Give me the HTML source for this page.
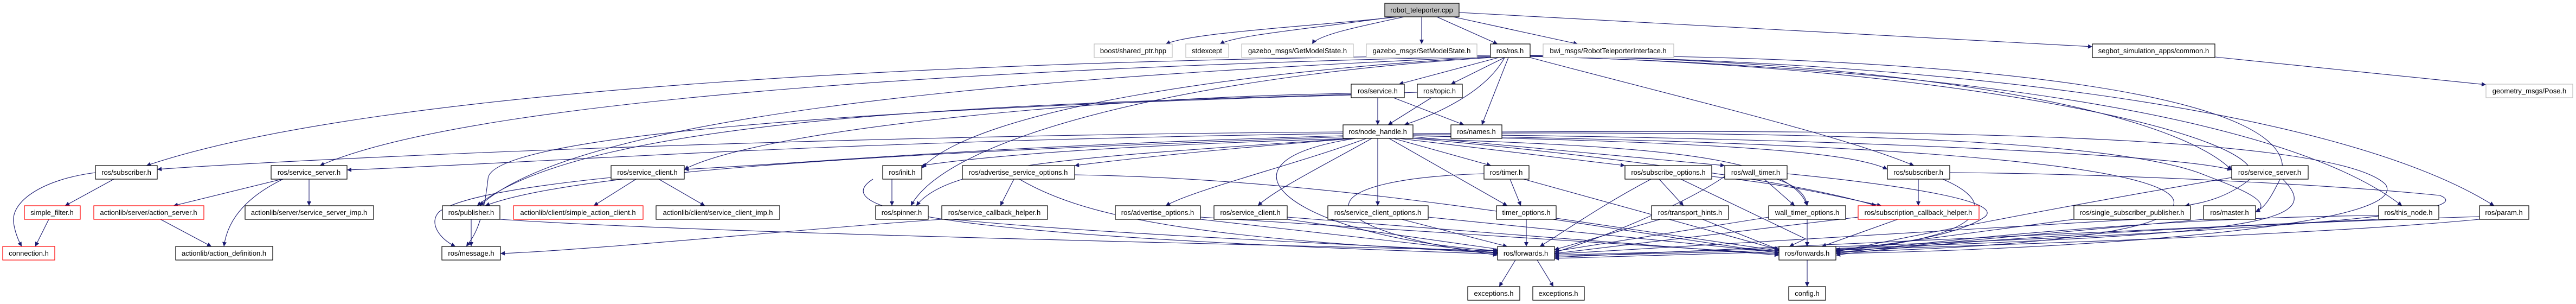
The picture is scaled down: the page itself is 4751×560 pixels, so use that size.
<!DOCTYPE html>
<html><head><meta charset="utf-8"><style>
html,body{margin:0;padding:0;background:#fff;}
svg{display:block;}
.e path{fill:none;stroke:#191970;stroke-width:1.1;}
.n rect{fill:#fff;stroke:#000;stroke-width:1.2;}
.n rect.g{stroke:#bfbfbf;}
.n rect.r{stroke:#ff0000;}
.n rect.f{fill:#bfbfbf;}
.n text{font-family:"Liberation Sans",sans-serif;font-size:13px;text-anchor:middle;fill:#000;}
</style></head><body>
<svg width="4751" height="560" viewBox="0 0 4751 560" xmlns="http://www.w3.org/2000/svg">
<defs><marker id="a" viewBox="0 0 10 10" refX="10" refY="5" markerWidth="10" markerHeight="8" markerUnits="userSpaceOnUse" orient="auto"><path d="M0,0 L10,5 L0,10 z" fill="#191970"/></marker></defs>
<g class="e" marker-end="url(#a)">
<path d="M2580 31 C2400 50 2200 60 2150 81"/>
<path d="M2570 31 C2400 55 2280 65 2250 81"/>
<path d="M2590 31 C2500 50 2430 65 2420 81"/>
<path d="M2622 31 L2622 81"/>
<path d="M2650 31 L2762 81"/>
<path d="M2680 31 L2910 81"/>
<path d="M2691 23 L3859 86"/>
<path d="M4085 105 L4585 156"/>
<path d="M2764 106 L2580 155"/>
<path d="M2775 106 L2676 155"/>
<path d="M2775 106 C2740 170 2650 210 2590 230"/>
<path d="M2782 106 L2733 230"/>
<path d="M2748 102 C1800 110 700 160 270 305"/>
<path d="M2748 104 C2000 120 900 170 590 305"/>
<path d="M2748 104 C2200 130 1100 180 885 379"/>
<path d="M2750 105 C2300 130 1800 200 1700 310"/>
<path d="M2750 106 C2200 140 1750 250 1680 379"/>
<path d="M2822 104 C3500 120 4200 200 4430 379"/>
<path d="M2822 103 C3500 110 4300 190 4600 379"/>
<path d="M2822 102 C3600 100 4300 170 4200 340 C4180 380 4170 385 4160 390"/>
<path d="M2822 103 C3500 110 4000 200 4116 313"/>
<path d="M2822 106 C3100 180 3400 250 3530 305"/>
<path d="M2822 104 C3600 120 4200 250 4150 330 C4100 370 4050 375 4030 379"/>
<path d="M2541 180 L2541 230"/>
<path d="M2570 180 L2700 230"/>
<path d="M2492 172 C2000 180 1400 240 1262 312"/>
<path d="M2492 175 C1600 200 900 250 900 330 C890 420 870 440 860 454"/>
<path d="M2640 180 L2560 230"/>
<path d="M2614 170 C2000 190 1100 200 880 379"/>
<path d="M2477 243 C1500 250 600 290 290 312"/>
<path d="M2477 246 C1500 260 1000 300 640 313"/>
<path d="M2477 250 C1800 270 1500 300 1262 312"/>
<path d="M2477 252 C2000 270 1100 300 895 379"/>
<path d="M2490 255 C2000 270 1800 290 1700 305"/>
<path d="M2490 255 C2000 290 1750 300 1690 379"/>
<path d="M2500 255 C2300 270 2100 290 1982 305"/>
<path d="M2520 255 C2400 300 2200 350 2150 379"/>
<path d="M2530 255 C2450 300 2350 350 2320 379"/>
<path d="M2541 255 L2541 379"/>
<path d="M2570 255 L2750 305"/>
<path d="M2562 255 L2780 379"/>
<path d="M2580 255 L2997 305"/>
<path d="M2606 252 L3181 305"/>
<path d="M2606 255 C3000 270 3300 280 3333 379"/>
<path d="M2606 250 C3000 260 3400 270 3481 312"/>
<path d="M2606 248 C3200 250 4000 280 4116 313"/>
<path d="M2606 255 C2900 280 3300 330 3460 379"/>
<path d="M2500 255 C2200 300 2400 440 2765 462"/>
<path d="M2606 250 C3400 260 4100 300 4000 390 C3950 440 3600 460 3386 464"/>
<path d="M2606 246 C3400 240 3900 260 4060 320 C4110 340 4200 370 4160 391"/>
<path d="M2770 243 C3400 240 4300 240 4400 340 C4450 420 3800 460 3386 467"/>
<path d="M210 330 L120 379"/>
<path d="M176 318 C80 330 20 370 25 410 C28 430 35 445 40 454"/>
<path d="M90 404 L65 454"/>
<path d="M296 404 L390 454"/>
<path d="M520 330 L320 379"/>
<path d="M570 330 L570 379"/>
<path d="M522 330 C460 360 420 400 413 454"/>
<path d="M1173 330 L1095 379"/>
<path d="M1215 330 L1300 379"/>
<path d="M1127 327 C1000 340 850 360 810 390 C790 410 810 440 840 454"/>
<path d="M869 404 L869 454"/>
<path d="M922 404 C1300 430 2300 450 2762 462"/>
<path d="M1737 404 C1500 420 1100 460 923 467"/>
<path d="M1737 402 C2000 430 2500 450 2762 465"/>
<path d="M1645 330 L1645 379"/>
<path d="M1610 330 C1500 400 1900 440 2762 468"/>
<path d="M1870 330 L1845 379"/>
<path d="M1880 330 C2000 400 2200 440 2765 466"/>
<path d="M1982 322 C2500 330 3000 430 3281 466"/>
<path d="M2214 404 L2762 466"/>
<path d="M2214 400 L3281 468"/>
<path d="M2374 404 L2770 460"/>
<path d="M2374 400 L3281 470"/>
<path d="M2585 404 L2780 454"/>
<path d="M2634 400 L3281 465"/>
<path d="M2785 330 L2805 379"/>
<path d="M2737 320 C2400 330 2400 420 2762 470"/>
<path d="M2810 330 L3281 460"/>
<path d="M2815 404 L2815 454"/>
<path d="M2870 402 L3281 462"/>
<path d="M3060 330 L3105 379"/>
<path d="M3045 330 C2950 380 2880 430 2840 454"/>
<path d="M3100 330 L3330 440 3300 454"/>
<path d="M3157 325 C3300 340 3380 360 3470 379"/>
<path d="M3062 404 L2867 460"/>
<path d="M3140 404 L3281 460"/>
<path d="M3254 330 L3310 379"/>
<path d="M3181 325 C3100 380 2950 440 2867 465"/>
<path d="M3200 310 C3300 330 3330 350 3333 379"/>
<path d="M3296 320 C3500 340 3700 370 3660 400 C3600 440 3450 455 3386 460"/>
<path d="M3333 404 L3333 454"/>
<path d="M3262 400 L2867 463"/>
<path d="M3538 330 L3538 379"/>
<path d="M3583 330 C3700 380 3650 440 3386 462"/>
<path d="M3596 318 C3900 320 4300 340 4500 360 C4600 400 4000 440 2867 470"/>
<path d="M3500 404 L3360 454"/>
<path d="M3427 400 L2867 467"/>
<path d="M4116 327 C3800 380 3500 440 3386 464"/>
<path d="M4210 330 C4300 420 4150 440 2867 472"/>
<path d="M3825 404 L3386 462"/>
<path d="M4040 398 L2867 468"/>
<path d="M4064 404 L3386 465"/>
<path d="M4387 397 C4000 400 3600 440 3386 467"/>
<path d="M4387 404 L2867 474"/>
<path d="M4573 399 C4200 410 3600 440 3386 470"/>
<path d="M4573 404 C4200 440 3400 460 2867 476"/>
<path d="M2795 479 L2765 528"/>
<path d="M2835 479 L2865 528"/>
<path d="M3333 479 L3333 528"/>
</g>
<g class="n">
<rect class="f" x="2554" y="6" width="137" height="25"/><text x="2622" y="23">robot_teleporter.cpp</text>
<rect class="g" x="2018" y="81" width="144" height="25"/><text x="2090" y="98">boost/shared_ptr.hpp</text>
<rect class="g" x="2187" y="81" width="79" height="25"/><text x="2226" y="98">stdexcept</text>
<rect class="g" x="2290" y="81" width="206" height="25"/><text x="2393" y="98">gazebo_msgs/GetModelState.h</text>
<rect class="g" x="2520" y="81" width="204" height="25"/><text x="2622" y="98">gazebo_msgs/SetModelState.h</text>
<rect x="2749" y="81" width="73" height="25"/><text x="2785" y="98">ros/ros.h</text>
<rect class="g" x="2846" y="81" width="241" height="25"/><text x="2966" y="98">bwi_msgs/RobotTeleporterInterface.h</text>
<rect x="3859" y="81" width="226" height="25"/><text x="3972" y="98">segbot_simulation_apps/common.h</text>
<rect x="2492" y="155" width="98" height="25"/><text x="2541" y="172">ros/service.h</text>
<rect x="2614" y="155" width="83" height="25"/><text x="2655" y="172">ros/topic.h</text>
<rect class="g" x="4585" y="155" width="160" height="25"/><text x="4665" y="172">geometry_msgs/Pose.h</text>
<rect x="2477" y="230" width="129" height="25"/><text x="2541" y="247">ros/node_handle.h</text>
<rect x="2676" y="230" width="94" height="25"/><text x="2723" y="247">ros/names.h</text>
<rect x="176" y="305" width="114" height="25"/><text x="233" y="322">ros/subscriber.h</text>
<rect x="500" y="305" width="140" height="25"/><text x="570" y="322">ros/service_server.h</text>
<rect x="1127" y="305" width="135" height="25"/><text x="1194" y="322">ros/service_client.h</text>
<rect x="1628" y="305" width="72" height="25"/><text x="1664" y="322">ros/init.h</text>
<rect x="1775" y="305" width="207" height="25"/><text x="1878" y="322">ros/advertise_service_options.h</text>
<rect x="2737" y="305" width="83" height="25"/><text x="2778" y="322">ros/timer.h</text>
<rect x="2997" y="305" width="160" height="25"/><text x="3077" y="322">ros/subscribe_options.h</text>
<rect x="3181" y="305" width="115" height="25"/><text x="3238" y="322">ros/wall_timer.h</text>
<rect x="3481" y="305" width="115" height="25"/><text x="3538" y="322">ros/subscriber.h</text>
<rect x="4116" y="305" width="141" height="25"/><text x="4186" y="322">ros/service_server.h</text>
<rect class="r" x="45" y="379" width="103" height="25"/><text x="96" y="396">simple_filter.h</text>
<rect class="r" x="173" y="379" width="203" height="25"/><text x="274" y="396">actionlib/server/action_server.h</text>
<rect x="452" y="379" width="237" height="25"/><text x="570" y="396">actionlib/server/service_server_imp.h</text>
<rect x="816" y="379" width="106" height="25"/><text x="869" y="396">ros/publisher.h</text>
<rect class="r" x="947" y="379" width="239" height="25"/><text x="1066" y="396">actionlib/client/simple_action_client.h</text>
<rect x="1210" y="379" width="228" height="25"/><text x="1324" y="396">actionlib/client/service_client_imp.h</text>
<rect x="1615" y="379" width="97" height="25"/><text x="1663" y="396">ros/spinner.h</text>
<rect x="1737" y="379" width="195" height="25"/><text x="1834" y="396">ros/service_callback_helper.h</text>
<rect x="2057" y="379" width="157" height="25"/><text x="2135" y="396">ros/advertise_options.h</text>
<rect x="2239" y="379" width="135" height="25"/><text x="2306" y="396">ros/service_client.h</text>
<rect x="2449" y="379" width="185" height="25"/><text x="2541" y="396">ros/service_client_options.h</text>
<rect x="2760" y="379" width="110" height="25"/><text x="2815" y="396">timer_options.h</text>
<rect x="3046" y="379" width="142" height="25"/><text x="3117" y="396">ros/transport_hints.h</text>
<rect x="3262" y="379" width="142" height="25"/><text x="3333" y="396">wall_timer_options.h</text>
<rect class="r" x="3427" y="379" width="223" height="25"/><text x="3538" y="396">ros/subscription_callback_helper.h</text>
<rect x="3825" y="379" width="215" height="25"/><text x="3932" y="396">ros/single_subscriber_publisher.h</text>
<rect x="4064" y="379" width="96" height="25"/><text x="4112" y="396">ros/master.h</text>
<rect x="4387" y="379" width="111" height="25"/><text x="4442" y="396">ros/this_node.h</text>
<rect x="4573" y="379" width="91" height="25"/><text x="4618" y="396">ros/param.h</text>
<rect class="r" x="5" y="454" width="96" height="25"/><text x="53" y="471">connection.h</text>
<rect x="324" y="454" width="179" height="25"/><text x="413" y="471">actionlib/action_definition.h</text>
<rect x="815" y="454" width="108" height="25"/><text x="869" y="471">ros/message.h</text>
<rect x="2762" y="454" width="105" height="25"/><text x="2814" y="471">ros/forwards.h</text>
<rect x="3281" y="454" width="105" height="25"/><text x="3333" y="471">ros/forwards.h</text>
<rect x="2707" y="528" width="96" height="25"/><text x="2755" y="545">exceptions.h</text>
<rect x="2827" y="528" width="95" height="25"/><text x="2874" y="545">exceptions.h</text>
<rect x="3299" y="528" width="68" height="25"/><text x="3333" y="545">config.h</text>
</g>
</svg>
</body></html>
